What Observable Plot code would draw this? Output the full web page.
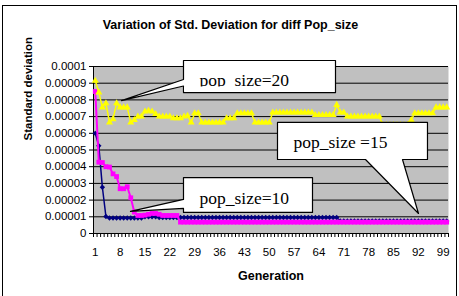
<!DOCTYPE html>
<html><head><meta charset="utf-8">
<script src="https://cdn.jsdelivr.net/npm/d3@7"></script>
<script src="https://cdn.jsdelivr.net/npm/@observablehq/plot@0.6"></script>
<style>
html,body{margin:0;padding:0;background:#fff;}
#wrap{position:relative;width:459px;height:296px;overflow:hidden;}
#chart svg{display:block;}
#border{position:absolute;left:2px;top:5px;width:455px;height:300px;border:1px solid #000;box-sizing:border-box;pointer-events:none;}
</style></head>
<body><div id="wrap"><div id="chart"></div><div id="border"></div></div>
<script>
// Categories: generation 1..100
const generations = d3.range(1, 101);

// pop_size=10 (navy, diamonds)
const pop10 = [
  6.0e-5, 5.25e-5, 2.77e-5, 1.02e-5,
  9.3e-6, 9.3e-6, 9.3e-6, 9.3e-6, 9.3e-6, 9.3e-6, 9.3e-6, 9.3e-6, 9.3e-6, 9.3e-6,
  1.0e-5, 1.0e-5, 1.0e-5, 1.0e-5,
  9.6e-6, 9.6e-6, 9.6e-6, 9.6e-6, 9.6e-6, 9.6e-6, 9.6e-6, 9.6e-6, 9.6e-6, 9.6e-6,
  9.6e-6, 9.6e-6, 9.6e-6, 9.6e-6, 9.6e-6, 9.6e-6, 9.6e-6, 9.6e-6, 9.6e-6, 9.6e-6,
  9.6e-6, 9.6e-6, 9.6e-6, 9.6e-6, 9.6e-6, 9.6e-6, 9.6e-6, 9.6e-6, 9.6e-6, 9.6e-6,
  9.6e-6, 9.6e-6, 9.6e-6, 9.6e-6, 9.6e-6, 9.6e-6, 9.6e-6, 9.6e-6, 9.6e-6, 9.6e-6,
  9.6e-6, 9.6e-6, 9.6e-6, 9.6e-6, 9.6e-6, 9.6e-6, 9.6e-6, 9.6e-6, 9.6e-6, 9.6e-6,
  9.6e-6,
  7.5e-6, 7.5e-6, 7.5e-6, 7.5e-6, 7.5e-6, 7.5e-6, 7.5e-6, 7.5e-6, 7.5e-6, 7.5e-6,
  7.5e-6, 7.5e-6, 7.5e-6, 7.5e-6, 7.5e-6, 7.5e-6, 7.5e-6, 7.5e-6, 7.5e-6, 7.5e-6,
  7.5e-6, 7.5e-6, 7.5e-6, 7.5e-6, 7.5e-6, 7.5e-6, 7.5e-6, 7.5e-6, 7.5e-6, 7.5e-6,
  7.5e-6
];

// pop_size=15 (magenta, squares)
const pop15 = [
  8.5e-5, 4.27e-5, 4.25e-5, 4.0e-5, 3.98e-5, 3.57e-5, 3.41e-5, 2.68e-5, 2.68e-5, 2.8e-5,
  2.14e-5, 1.28e-5, 1.08e-5, 1.08e-5, 1.1e-5, 1.15e-5, 1.2e-5, 1.2e-5, 1.15e-5, 1.08e-5,
  1.08e-5, 1.08e-5, 1.08e-5, 1.08e-5,
  6.8e-6, 6.8e-6, 6.8e-6, 6.8e-6, 6.8e-6, 6.8e-6, 6.8e-6, 6.8e-6, 6.8e-6, 6.8e-6,
  6.8e-6, 6.8e-6, 6.8e-6, 6.8e-6, 6.8e-6, 6.8e-6, 6.8e-6, 6.8e-6, 6.8e-6, 6.8e-6,
  6.8e-6, 6.8e-6, 6.8e-6, 6.8e-6, 6.8e-6, 6.8e-6, 6.8e-6, 6.8e-6, 6.8e-6, 6.8e-6,
  6.8e-6, 6.8e-6, 6.8e-6, 6.8e-6, 6.8e-6, 6.8e-6, 6.8e-6, 6.8e-6, 6.8e-6, 6.8e-6,
  6.8e-6, 6.8e-6, 6.8e-6, 6.8e-6, 6.8e-6, 6.8e-6, 6.8e-6, 6.8e-6, 6.8e-6, 6.8e-6,
  6.8e-6, 6.8e-6, 6.8e-6, 6.8e-6, 6.8e-6, 6.8e-6, 6.8e-6, 6.8e-6, 6.8e-6, 6.8e-6,
  6.8e-6, 6.8e-6, 6.8e-6, 6.8e-6, 6.8e-6, 6.8e-6, 6.8e-6, 6.8e-6, 6.8e-6, 6.8e-6,
  6.8e-6, 6.8e-6, 6.8e-6, 6.8e-6, 6.8e-6, 6.8e-6
];

// pop_size=20 (yellow, triangles)
const pop20 = [
  9.15e-5, 8.45e-5, 7.55e-5, 7.8e-5, 6.65e-5, 6.85e-5, 7.8e-5, 7.55e-5, 7.55e-5, 7.55e-5,
  6.65e-5, 6.8e-5, 7.0e-5, 7.0e-5, 7.3e-5, 7.35e-5, 7.3e-5, 7.15e-5, 7.0e-5, 7.0e-5,
  7.0e-5, 7.0e-5, 6.9e-5, 6.9e-5, 6.9e-5, 7.0e-5, 7.05e-5, 6.65e-5, 7.2e-5, 7.2e-5,
  6.65e-5, 6.65e-5, 6.65e-5, 6.65e-5, 6.65e-5, 6.65e-5, 6.65e-5,
  6.9e-5, 6.9e-5, 6.9e-5,
  7.2e-5, 7.2e-5, 7.2e-5, 7.2e-5, 7.2e-5,
  6.65e-5, 6.65e-5, 6.65e-5, 6.65e-5, 6.65e-5,
  7.25e-5, 7.25e-5, 7.25e-5, 7.25e-5, 7.25e-5, 7.25e-5, 7.25e-5, 7.25e-5, 7.25e-5, 7.25e-5, 7.25e-5, 7.25e-5,
  7.1e-5, 7.1e-5, 7.1e-5, 7.1e-5, 7.1e-5, 7.1e-5,
  7.7e-5, 7.25e-5, 7.25e-5,
  7.0e-5, 7.0e-5, 7.0e-5, 7.0e-5, 7.0e-5, 7.0e-5, 7.0e-5, 7.0e-5, 7.0e-5, 7.0e-5,
  6.5e-5, 6.5e-5, 6.5e-5, 6.5e-5, 6.5e-5, 6.5e-5, 6.5e-5, 6.5e-5,
  6.8e-5,
  7.2e-5, 7.2e-5, 7.2e-5, 7.2e-5, 7.2e-5, 7.2e-5,
  7.55e-5, 7.55e-5, 7.55e-5, 7.55e-5
];

const yTicks = [0, 0.00001, 0.00002, 0.00003, 0.00004, 0.00005, 0.00006, 0.00007, 0.00008, 0.00009, 0.0001];
const xTickLabels = [1, 8, 15, 22, 29, 36, 43, 50, 57, 64, 71, 78, 85, 92, 99];
const xTickMarks = d3.range(0.5, 101, 1);

// Callout annotations (data coordinates: generation, value)
const callouts = [
  {id: "c20", label: "pop_size=20", x1: 25.85, x2: 68.67, y1: 1.036e-4, y2: 0.844e-4,
   points: [[25.85,1.036e-4],[68.67,1.036e-4],[68.67,0.844e-4],[25.85,0.844e-4],[25.85,0.883e-4],[8.39,0.796e-4],[25.85,0.922e-4]]},
  {id: "c15", label: "pop_size =15", x1: 52.33, x2: 94.58, y1: 0.665e-4, y2: 0.443e-4,
   points: [[52.33,0.665e-4],[94.58,0.665e-4],[94.58,0.443e-4],[87.54,0.443e-4],[92.05,0.120e-4],[77.12,0.443e-4],[52.33,0.443e-4]]},
  {id: "c10", label: "pop_size=10", x1: 25.85, x2: 62.19, y1: 0.335e-4, y2: 0.126e-4,
   points: [[25.85,0.335e-4],[62.19,0.335e-4],[62.19,0.126e-4],[25.85,0.126e-4],[25.85,0.150e-4],[10.92,0.132e-4],[25.85,0.204e-4]]}
];
const calloutPts = callouts.flatMap(c => c.points.map(([x, y]) => ({id: c.id, x, y})));
// the "pop_size=20" label is cut at its baseline in the original
const textCover = [{x1: 25.85, x2: 68.67, y1: 0.8485e-4, y2: 0.8772e-4}];

const rows = (arr) => generations.map((g, i) => ({gen: g, value: arr[i]}));
const d10 = rows(pop10), d15 = rows(pop15), d20 = rows(pop20);

const fmt = d => d === 0 ? "0" : d.toFixed(5).replace(/0+$/, "");
const sans = "'Liberation Sans', Arial, sans-serif";

const chart = Plot.plot({
  width: 459, height: 296,
  marginLeft: 93, marginRight: 11, marginTop: 66, marginBottom: 63,
  style: {fontFamily: sans, background: "transparent", overflow: "visible", color: "#000"},
  x: {type: "linear", domain: [0.5, 100.5]},
  y: {domain: [0, 0.0001]},
  marks: [
    Plot.frame({fill: "#C0C0C0", stroke: null}),
    Plot.gridY(yTicks.filter(d => d > 0), {stroke: "#000", strokeOpacity: 1, strokeWidth: 1}),
    Plot.axisY(yTicks, {tickSize: 4, tickPadding: 3, tickFormat: fmt, fontSize: 11.5, label: null}),
    Plot.axisX(xTickMarks, {tickSize: 4, tickFormat: () => "", label: null}),
    Plot.axisX(xTickLabels, {tickSize: 0, tickPadding: 14, fontSize: 11.5, label: null}),
    Plot.ruleX([0.5], {stroke: "#000"}),
    Plot.ruleY([0], {stroke: "#000"}),
    Plot.line(d10, {x: "gen", y: "value", stroke: "#000080", strokeWidth: 1.5}),
    Plot.dot(d10, {x: "gen", y: "value", symbol: "diamond2", r: 2.4, fill: "#000080", stroke: null}),
    Plot.line(d15, {x: "gen", y: "value", stroke: "#FF00FF", strokeWidth: 2}),
    Plot.dot(d15, {x: "gen", y: "value", symbol: "square", r: 2.7, fill: "#FF00FF", stroke: null}),
    Plot.line(d20, {x: "gen", y: "value", stroke: "#FFFF00", strokeWidth: 1.5}),
    Plot.dot(d20, {x: "gen", y: "value", symbol: "triangle", r: 2.6, fill: "#FFFF00", stroke: null}),
    Plot.line(calloutPts, {x: "x", y: "y", z: "id", curve: "linear-closed", fill: "white", stroke: "#000", strokeWidth: 1.2}),
    Plot.text(callouts, {x: "x1", y: "y1", text: "label", textAnchor: "start", lineAnchor: "middle", dx: 16, dy: 20.4,
      fontFamily: "'Liberation Serif', 'Times New Roman', serif", fontSize: 17.5, fill: "#000"}),
    Plot.rect(textCover, {x1: "x1", x2: "x2", y1: "y1", y2: "y2", fill: "white", insetLeft: 1, insetRight: 1}),
    Plot.text(["Variation of Std. Deviation for diff Pop_size"], {text: d => d, frameAnchor: "top", dx: -40.5, dy: -42,
      lineAnchor: "middle", fontWeight: "bold", fontSize: 12.5, fill: "#000"}),
    Plot.text(["Standard deviation"], {text: d => d, frameAnchor: "left", rotate: -90, dx: -65, dy: -9.5,
      lineAnchor: "middle", fontWeight: "bold", fontSize: 11.5, fill: "#000"}),
    Plot.text(["Generation"], {text: d => d, frameAnchor: "bottom", dx: 0, dy: 42,
      lineAnchor: "middle", fontWeight: "bold", fontSize: 12.5, fill: "#000"})
  ]
});
document.getElementById("chart").appendChild(chart);
</script>
</body></html>
